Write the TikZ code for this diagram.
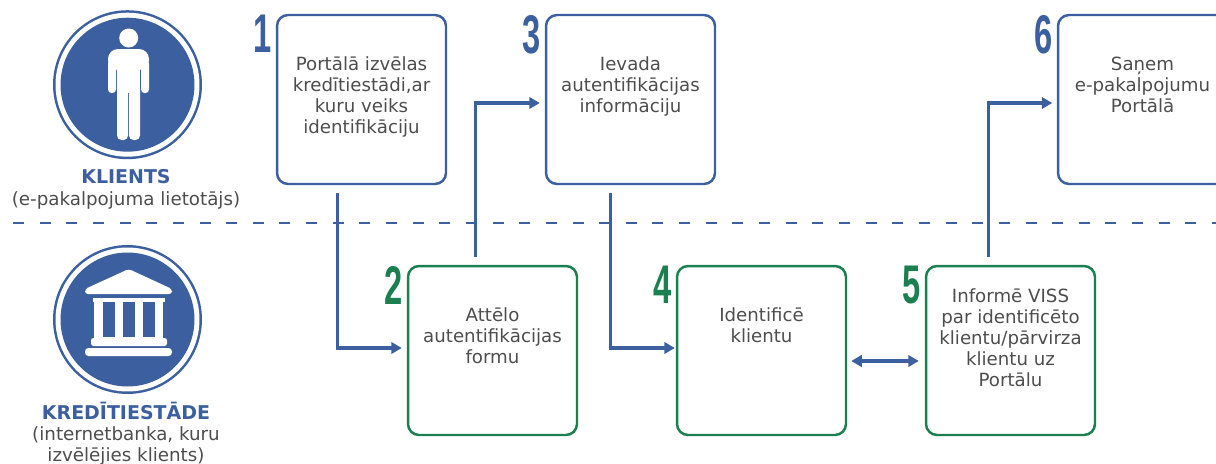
\documentclass[tikz,border=0pt]{standalone}
\usepackage{fontspec}
\setmainfont{DejaVu Sans}
\newfontfamily\numfont{Liberation Sans}
\usetikzlibrary{arrows.meta}
\definecolor{flowblue}{HTML}{3C5FA0}
\definecolor{flowgreen}{HTML}{1A8050}
\definecolor{bodygrey}{HTML}{4D4D4D}
\tikzset{
  stepshape/.style={draw=#1,line width=1.4pt,rounded corners=0.22cm,minimum width=3.38cm,minimum height=3.38cm,inner sep=0pt},
  steptext/.style={text=bodygrey,align=center,inner sep=0pt,font=\fontsize{10.35}{11.94}\selectfont},
  stepnum/.style={text=#1,inner sep=0pt,anchor=north east,font=\numfont\bfseries\fontsize{31}{32}\selectfont},
  flowline/.style={draw=flowblue,line width=1.8pt,-{Triangle[length=6pt,width=6.5pt]}},
  iconname/.style={text=flowblue,inner sep=0pt,font=\fontsize{10.8}{12}\selectfont\bfseries},
  iconnote/.style={text=bodygrey,inner sep=0pt,align=center,font=\fontsize{10.4}{11.94}\selectfont}
}
% box name, x, y, colour, number, text drop, text
\newcommand{\stepbox}[7]{
\node[stepshape=#4] (box#1) at (#2,#3) {};
\node[steptext,anchor=north] (text#1) at ([yshift=-#6]box#1.north) {#7};
\node[stepnum=#4] (num#1) at ([xshift=-0.08cm,yshift=-0.02cm]box#1.north west) {\scalebox{0.6}[1]{#5}};
}
\begin{document}
\begin{tikzpicture}[x=0.02cm,y=-0.02cm]
\useasboundingbox (0,0) rectangle (1216,463);

% left icons
\fill[flowblue] (127.5,84.7) circle (1.49cm);
\fill[white] (127.5,84.7) circle (1.44cm);
\fill[flowblue] (127.5,84.7) circle (1.34cm);
\fill[white] (128.7,38) circle (0.19cm);
\fill[white,rounded corners=0.2cm] (108,70)--(108,49)--(149,49)--(149,70)--cycle;
\fill[white,rounded corners=0.07cm] (108,60) rectangle (116,93);
\fill[white,rounded corners=0.07cm] (141,60) rectangle (149,93);
\fill[white] (117,55) rectangle (140,93);
\fill[white,rounded corners=0.09cm] (117,85) rectangle (128,140);
\fill[white,rounded corners=0.09cm] (129,85) rectangle (140,140);

\fill[flowblue] (127.5,319.5) circle (1.49cm);
\fill[white] (127.5,319.5) circle (1.44cm);
\fill[flowblue] (127.5,319.5) circle (1.34cm);
\fill[white,rounded corners=0.06cm] (128.7,269)--(172,289)--(172,294)--(85,294)--(85,289)--cycle;
\fill[white] (93,298) rectangle (165,302);
\fill[white] (94,302) rectangle (163,338);
\foreach \colx in {103,123,143}{
  \fill[flowblue] (\colx,302) rectangle ++(12,35);
}
\fill[white,rounded corners=0.05cm] (91,338) rectangle (167,346);
\fill[white,rounded corners=0.07cm] (85,348) rectangle (172,356);

\node[iconname] (nameA) at (126,176.5) {KLIENTS};
\node[iconnote] (noteA) at (126,200.5) {(e-pakalpojuma lietotājs)};
\node[iconname] (nameB) at (126,411) {KREDĪTIESTĀDE};
\node[iconnote,anchor=north] (noteB) at (126,426) {(internetbanka, kuru\\izvēlējies klients)};

% divider
\draw[flowblue,line width=1.7pt,dash pattern=on 0.22cm off 0.313cm] (13,223) -- (1216,223);

\stepbox{A}{361.5}{99.5}{flowblue}{1}{0.85cm}{Portālā izvēlas\\kredītiestādi,ar\\kuru veiks\\identifikāciju}
\stepbox{B}{492.5}{350.5}{flowgreen}{2}{0.85cm}{Attēlo\\autentifikācijas\\formu}
\stepbox{C}{630.5}{99.5}{flowblue}{3}{0.85cm}{Ievada\\autentifikācijas\\informāciju}
\stepbox{D}{761.5}{350.5}{flowgreen}{4}{0.85cm}{Identificē\\klientu}
\stepbox{E}{1010.5}{350.5}{flowgreen}{5}{0.47cm}{Informē VISS\\par identificēto\\klientu/pārvirza\\klientu uz\\Portālu}
\stepbox{F}{1142.5}{99.5}{flowblue}{6}{0.85cm}{Saņem\\e-pakalpojumu\\Portālā}

% connectors
\draw[flowline] ([xshift=1.24cm,yshift=-0.16cm]boxA.south west) |- ([xshift=-0.1cm,yshift=0.05cm]boxB.west);
\draw[flowline] ([xshift=1.38cm,yshift=0.16cm]boxB.north west) |- ([xshift=-0.1cm,yshift=-0.07cm]boxC.west);
\draw[flowline] ([xshift=1.32cm,yshift=-0.16cm]boxC.south west) |- ([xshift=-0.02cm,yshift=0.05cm]boxD.west);
\draw[flowline] ([xshift=1.28cm,yshift=0.16cm]boxE.north west) |- ([xshift=-0.09cm,yshift=-0.07cm]boxF.west);
\draw[flowline,{Triangle[length=6pt,width=6.5pt]}-{Triangle[length=6pt,width=6.5pt]}] ([xshift=0.08cm,yshift=-0.21cm]boxD.east) -- ([xshift=-0.12cm,yshift=-0.21cm]boxE.west);
\end{tikzpicture}
\end{document}
